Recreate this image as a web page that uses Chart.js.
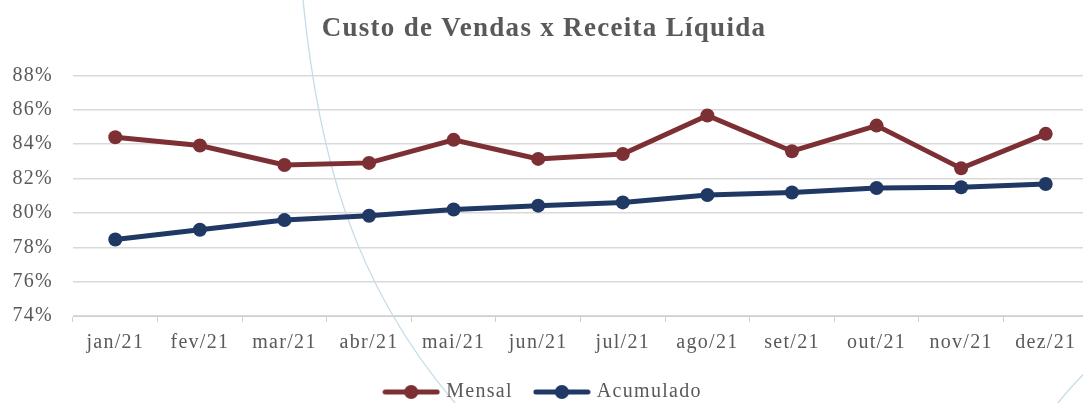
<!DOCTYPE html>
<html>
<head>
<meta charset="utf-8">
<script src="https://cdn.jsdelivr.net/npm/chart.js@4"></script>
<style>
  html, body { margin: 0; padding: 0; background: #fff; overflow: hidden; }
  #wrap { position: absolute; left: 0; top: 0; width: 1112px; height: 403px; }
</style>
</head>
<body>
<div id="wrap"><canvas id="chart"></canvas></div>
<script>
const months = ['jan/21', 'fev/21', 'mar/21', 'abr/21', 'mai/21', 'jun/21', 'jul/21', 'ago/21', 'set/21', 'out/21', 'nov/21', 'dez/21'];
const mensal = [84.40, 83.92, 82.79, 82.91, 84.25, 83.14, 83.43, 85.67, 83.59, 85.08, 82.59, 84.60];
const acumulado = [78.45, 79.02, 79.58, 79.83, 80.20, 80.42, 80.61, 81.04, 81.19, 81.45, 81.49, 81.68];
const yTicks = [74, 76, 78, 80, 82, 84, 86, 88];

const RED = '#7d3034';
const NAVY = '#1f3864';
const GREY = '#595959';
const FONT = '"Liberation Serif", "DejaVu Serif", serif';

// legend marker: line with a dot in the middle
function legendMark(color) {
  const c = document.createElement('canvas');
  c.width = 58; c.height = 16;
  const g = c.getContext('2d');
  g.strokeStyle = color;
  g.lineWidth = 5;
  g.lineCap = 'round';
  g.beginPath(); g.moveTo(3, 8); g.lineTo(55, 8); g.stroke();
  g.fillStyle = color;
  g.beginPath(); g.arc(29, 8, 7, 0, Math.PI * 2); g.fill();
  return c;
}

// the Garamond in the original is wider than Liberation Serif
const spacing = {
  id: 'spacing',
  beforeLayout(chart) { chart.ctx.letterSpacing = '1.3px'; },
  beforeDraw(chart) { chart.ctx.letterSpacing = '1.3px'; }
};

// faint decorative arcs in the background
const arcs = {
  id: 'arcs',
  beforeDraw(chart) {
    const ctx = chart.ctx;
    ctx.save();
    ctx.strokeStyle = '#c3dde9';
    ctx.lineWidth = 1.3;
    ctx.beginPath();
    ctx.moveTo(303, 0);
    ctx.bezierCurveTo(318, 150, 350, 280, 455, 403);
    ctx.stroke();
    ctx.beginPath();
    ctx.moveTo(1058, 403);
    ctx.quadraticCurveTo(1072, 385, 1092, 366);
    ctx.stroke();
    ctx.restore();
  }
};

new Chart(document.getElementById('chart'), {
  type: 'line',
  data: {
    labels: months,
    datasets: [
      {
        label: 'Mensal',
        data: mensal,
        borderColor: RED,
        backgroundColor: RED,
        borderWidth: 5,
        pointRadius: 7,
        pointHoverRadius: 7,
        pointBackgroundColor: RED,
        pointBorderWidth: 0,
        tension: 0
      },
      {
        label: 'Acumulado',
        data: acumulado,
        borderColor: NAVY,
        backgroundColor: NAVY,
        borderWidth: 5,
        pointRadius: 7,
        pointHoverRadius: 7,
        pointBackgroundColor: NAVY,
        pointBorderWidth: 0,
        tension: 0
      }
    ]
  },
  options: {
    responsive: true,
    maintainAspectRatio: false,
    animation: false,
    layout: { padding: { top: 10, right: 24, bottom: -9, left: 0 } },
    plugins: {
      title: {
        display: true,
        text: 'Custo de Vendas x Receita Líquida',
        color: GREY,
        font: { family: FONT, size: 27, weight: 'bold' },
        padding: { top: 3, bottom: 30 }
      },
      legend: {
        position: 'bottom',
        labels: {
          color: GREY,
          font: { family: FONT, size: 20 },
          usePointStyle: true,
          pointStyleWidth: 50,
          padding: 24,
          generateLabels: chart => chart.data.datasets.map((ds, i) => ({
            text: ds.label,
            fontColor: GREY,
            pointStyle: legendMark(ds.borderColor),
            lineWidth: 0,
            strokeStyle: 'transparent',
            fillStyle: ds.borderColor,
            datasetIndex: i
          }))
        }
      },
      tooltip: { enabled: false }
    },
    scales: {
      x: {
        offset: true,
        afterFit: axis => { axis.height -= 6; },
        grid: {
          offset: true,
          drawOnChartArea: false,
          drawTicks: true,
          tickLength: 6,
          color: '#d0d0d0'
        },
        border: { display: true, color: '#d0d0d0', width: 1 },
        ticks: {
          color: GREY,
          font: { family: FONT, size: 20 },
          padding: 9,
          maxRotation: 0
        }
      },
      y: {
        min: 74,
        max: 88,
        afterBuildTicks: axis => { axis.ticks = yTicks.map(v => ({ value: v })); },
        afterFit: axis => { axis.width = 73; },
        grid: { color: '#d9d9d9', lineWidth: 1.5, drawTicks: false },
        border: { display: false },
        ticks: {
          color: GREY,
          font: { family: FONT, size: 20 },
          padding: 20,
          callback: v => v + '%'
        }
      }
    }
  },
  plugins: [spacing, arcs]
});
</script>
</body>
</html>
